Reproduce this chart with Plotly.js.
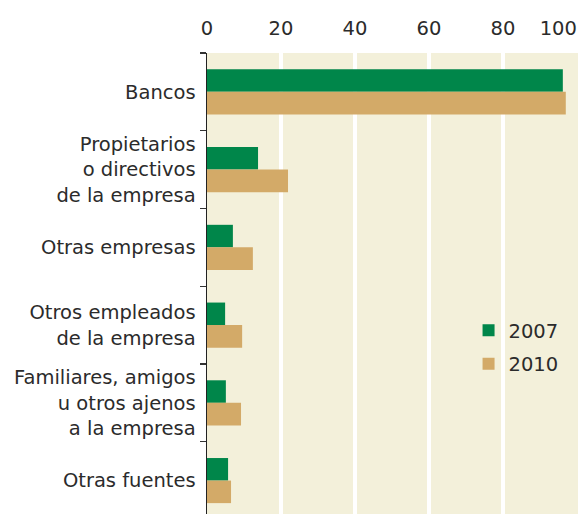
<!DOCTYPE html>
<html>
<head>
<meta charset="utf-8">
<script src="https://cdn.plot.ly/plotly-3.0.1.min.js"></script>
<style>
  body { margin: 0; background: #fff; }
  #chart { width: 582px; height: 514px; }
</style>
</head>
<body>
<div id="chart"></div>
<script>
// categorías (de arriba abajo)
var categorias = [
    'Bancos',
    'Propietarios<br>o directivos<br>de la empresa',
    'Otras empresas',
    'Otros empleados<br>de la empresa',
    'Familiares, amigos<br>u otros ajenos<br>a la empresa',
    'Otras fuentes'
];
var valores2007 = [96.2, 13.8, 7.0, 4.9, 5.1, 5.7];
var valores2010 = [97.0, 21.9, 12.4, 9.5, 9.2, 6.5];
var ticksX = [0, 20, 40, 60, 80];

var fuente = 'DejaVu Sans, Verdana, sans-serif';
var colorTexto = '#2b2b2b';

var trazas = [
    {
        type: 'bar', orientation: 'h', name: '2007', legendgroup: 'a',
        y: categorias, x: valores2007,
        marker: { color: '#00864a' }, hoverinfo: 'x'
    },
    {
        type: 'bar', orientation: 'h', name: '2010', legendgroup: 'b',
        y: categorias, x: valores2010,
        marker: { color: '#d3aa68' }, hoverinfo: 'x'
    }
];

var layout = {
    width: 582,
    height: 514,
    margin: { l: 207, r: 4, t: 53, b: 0 },
    paper_bgcolor: '#ffffff',
    plot_bgcolor: '#f3f0da',
    barmode: 'group',
    bargap: 0.42,
    bargroupgap: 0,
    font: { family: fuente, size: 19.5, color: colorTexto },
    showlegend: true,
    legend: {
        x: 0.705, y: 0.44, xanchor: 'left', yanchor: 'top',
        bgcolor: 'rgba(0,0,0,0)',
        traceorder: 'grouped',
        tracegroupgap: 5,
        font: { family: fuente, size: 19.5, color: colorTexto }
    },
    xaxis: {
        side: 'top',
        range: [0, 100.3],
        tickvals: ticksX,
        ticks: '',
        ticklabelstandoff: 13,
        showgrid: true,
        gridcolor: '#ffffff',
        gridwidth: 4,
        zeroline: false,
        showline: false,
        fixedrange: true
    },
    xaxis2: {
        overlaying: 'x',
        side: 'top',
        range: [0, 100.3],
        tickvals: [100],
        ticktext: ['100'],
        ticklabelposition: 'outside left',
        ticks: '',
        ticklabelstandoff: 13,
        showgrid: false,
        zeroline: false,
        showline: false,
        fixedrange: true
    },
    yaxis: {
        type: 'category',
        range: [5.43, -0.5],
        tickson: 'boundaries',
        ticks: 'outside',
        ticklen: 6,
        tickwidth: 1.2,
        tickcolor: '#333333',
        ticklabelstandoff: 6,
        showgrid: false,
        showline: true,
        linecolor: '#222222',
        linewidth: 1.5,
        zeroline: false,
        fixedrange: true
    }
};

// traza invisible para mostrar la etiqueta 100 en el eje superior
trazas.push({
    type: 'scatter', x: [100], y: [categorias[0]], xaxis: 'x2',
    mode: 'markers', marker: { opacity: 0 }, showlegend: false, hoverinfo: 'skip'
});

Plotly.newPlot('chart', trazas, layout, { displayModeBar: false, staticPlot: true });
</script>
</body>
</html>
